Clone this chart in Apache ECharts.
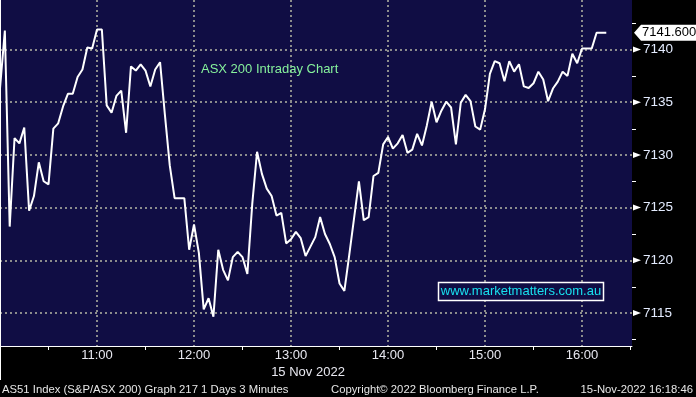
<!DOCTYPE html>
<html><head><meta charset="utf-8">
<script src="https://cdn.jsdelivr.net/npm/echarts@6/dist/echarts.min.js"></script>
<style>html,body{margin:0;padding:0;background:#000}#c{width:696px;height:397px}</style>
</head><body><div id="c"></div>
<script>
// ---- data ----
const startTime = '10:00';
const stepMinutes = 3;
const values = [
  7136.3, 7141.8, 7123.2, 7131.6, 7131.1, 7132.6, 7124.7, 7126.1, 7129.3, 7127.5,
  7127.2, 7132.5, 7133.0, 7134.6, 7135.8, 7135.8, 7137.4, 7138.1, 7140.2, 7140.1,
  7141.9, 7141.9, 7134.7, 7134.0, 7135.6, 7136.1, 7132.1, 7138.4, 7138.0, 7138.6,
  7138.0, 7136.5, 7138.1, 7138.8, 7133.8, 7129.0, 7125.9, 7125.9, 7125.9, 7121.0,
  7123.4, 7120.7, 7115.35, 7116.4, 7114.65, 7121.0, 7119.1, 7118.1, 7120.3, 7120.8,
  7120.3, 7118.7, 7125.3, 7130.3, 7128.2, 7126.8, 7126.1, 7124.25, 7124.5, 7121.6,
  7122.0, 7122.7, 7122.1, 7120.4, 7121.3, 7122.2, 7124.1, 7122.5, 7121.55, 7120.3,
  7117.8, 7117.1, 7120.5, 7124.0, 7127.5, 7123.8, 7124.1, 7128.0, 7128.3, 7131.0,
  7131.7, 7130.6, 7131.1, 7131.9, 7130.2, 7130.5, 7132.0, 7130.9, 7132.8, 7135.05,
  7133.1, 7134.2, 7135.05, 7134.5, 7131.0, 7134.95, 7135.7, 7135.1, 7132.7, 7132.4,
  7134.35, 7137.7, 7138.9, 7138.7, 7137.0, 7138.9, 7137.9, 7138.6, 7136.5, 7136.35,
  7136.8, 7137.9, 7137.15, 7135.1, 7136.3, 7136.95, 7137.9, 7137.5, 7139.6, 7138.7,
  7140.1, 7140.1, 7140.1, 7141.6, 7141.6, 7141.6
];
const xTickLabels = ['11:00', '12:00', '13:00', '14:00', '15:00', '16:00'];
const yTicks = [7115, 7120, 7125, 7130, 7135, 7140];
const yMinorTicks = [7112.5, 7117.5, 7122.5, 7127.5, 7132.5, 7137.5, 7142.5];
const lastPrice = 7141.6;
const yRange = [7111.87, 7144.7];
const xRangeMinutes = [0, 390.9];
const chartTitle = 'ASX 200 Intraday Chart';
const dateLabel = '15 Nov 2022';
const footerLeft = 'AS51 Index (S&P/ASX 200) Graph 217 1 Days 3 Minutes';
const footerMid = 'Copyright\u00A9 2022 Bloomberg Finance L.P.';
const footerRight = '15-Nov-2022 16:18:46';
const watermark = 'www.marketmatters.com.au';

// ---- chart ----
const NAVY = '#100d44';
const GRIDC = '#8c8c8c';
const FONT = '"Liberation Sans", Arial, sans-serif';
const seriesData = values.map((v, i) => [i * stepMinutes, v]);

const chart = echarts.init(document.getElementById('c'), null, {renderer: 'canvas'});
chart.setOption({
  animation: false,
  backgroundColor: '#000',
  grid: {left: 0, right: 64, top: 0, bottom: 51, show: true, backgroundColor: NAVY, borderWidth: 0},
  xAxis: {
    type: 'value', min: xRangeMinutes[0], max: xRangeMinutes[1], interval: 60,
    axisLine: {show: true, lineStyle: {color: '#fff', width: 1}},
    axisTick: {show: false},
    minorTick: {show: true, splitNumber: 2, length: 4, lineStyle: {color: '#fff', width: 1}},
    splitLine: {show: true, showMinLine: true, showMaxLine: false,
      lineStyle: {color: GRIDC, width: 2, type: [2, 3]}},
    axisLabel: {
      margin: 3, color: '#e8e8f0', fontFamily: FONT, fontSize: 13,
      showMinLabel: false, showMaxLabel: false,
      formatter: v => { const k = Math.round(v / 60) - 1; return (v % 60 === 0 && k >= 0 && k < xTickLabels.length) ? xTickLabels[k] : ''; }
    }
  },
  yAxis: {
    type: 'value', position: 'right', min: yRange[0], max: yRange[1],
    splitNumber: 6, minInterval: 5, maxInterval: 5,
    axisLine: {show: true, lineStyle: {color: '#fff', width: 1}},
    axisTick: {show: false},
    splitLine: {show: true, showMinLine: false, showMaxLine: false,
      lineStyle: {color: GRIDC, width: 2, type: [2, 3]}},
    axisLabel: {
      margin: 11, color: '#e4ecff', fontFamily: FONT, fontSize: 13.5,
      showMinLabel: false, showMaxLabel: false,
      formatter: v => yTicks.indexOf(Math.round(v * 1000) / 1000) >= 0 ? String(Math.round(v)) : ''
    }
  },
  series: [{
    type: 'line', data: seriesData, showSymbol: false, clip: true,
    lineStyle: {color: '#ffffff', width: 2}, itemStyle: {color: '#fff'}
  }]
});

// decorations placed through the axis scales
const ax = chart.convertToPixel({xAxisIndex: 0}, xRangeMinutes[1]);
const axisBottom = chart.convertToPixel({yAxisIndex: 0}, yRange[0]);
const g = [];
yTicks.forEach(t => {
  const py = chart.convertToPixel({yAxisIndex: 0}, t);
  g.push({type: 'polygon', shape: {points: [[ax + 1, py - 3], [ax + 9, py], [ax + 1, py + 3]]}, style: {fill: '#fff'}, z: 10});
});
yMinorTicks.forEach(t => {
  const py = Math.round(chart.convertToPixel({yAxisIndex: 0}, t)) + 0.5;
  g.push({type: 'line', shape: {x1: ax, y1: py, x2: ax + 4, y2: py}, style: {stroke: '#fff', lineWidth: 1}, z: 10});
});
const lp = chart.convertToPixel({yAxisIndex: 0}, lastPrice);
g.push({type: 'polygon', shape: {points: [[ax + 2, lp], [ax + 9, lp - 8], [696, lp - 8], [696, lp + 8], [ax + 9, lp + 8]]}, style: {fill: '#fff'}, z: 11});
g.push({type: 'text', x: ax + 10, y: lp, style: {text: lastPrice.toFixed(3), fill: '#000', font: '13px ' + FONT, verticalAlign: 'middle', align: 'left'}, z: 12});
// title text
g.push({type: 'text', x: 201, y: 69, style: {text: chartTitle, fill: '#86f29c', font: '13px ' + FONT, verticalAlign: 'middle'}, z: 12});
// watermark box
g.push({type: 'rect', shape: {x: 438.5, y: 282.5, width: 165, height: 18}, style: {fill: NAVY, stroke: '#fff', lineWidth: 1.5}, z: 12});
g.push({type: 'text', x: 521, y: 291.5, style: {text: watermark, fill: '#18e0ee', font: '13px ' + FONT, align: 'center', verticalAlign: 'middle'}, z: 13});
// date + footer
g.push({type: 'text', x: 308, y: 372, style: {text: dateLabel, fill: '#e8e8f0', font: '13px ' + FONT, align: 'center', verticalAlign: 'middle'}, z: 12});
g.push({type: 'text', x: 2, y: 390, style: {text: footerLeft, fill: '#e6e6e6', font: '11.3px ' + FONT, verticalAlign: 'middle'}, z: 12});
g.push({type: 'text', x: 331, y: 390, style: {text: footerMid, fill: '#e6e6e6', font: '11.3px ' + FONT, verticalAlign: 'middle'}, z: 12});
g.push({type: 'text', x: 693, y: 390, style: {text: footerRight, fill: '#e6e6e6', font: '11.3px ' + FONT, align: 'right', verticalAlign: 'middle'}, z: 12});
g.push({type: 'line', shape: {x1: 0.5, y1: axisBottom, x2: 0.5, y2: 380}, style: {stroke: '#fff', lineWidth: 1}, z: 10});
chart.setOption({graphic: g});
</script>
</body></html>
